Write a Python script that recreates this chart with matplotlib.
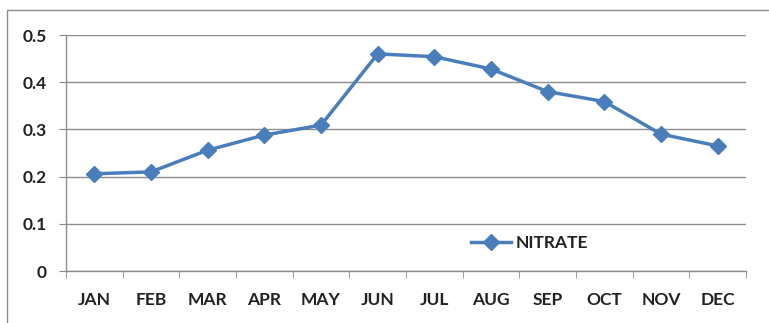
import matplotlib
matplotlib.use("Agg")
import matplotlib.pyplot as plt
from matplotlib.patches import Rectangle
from matplotlib.ticker import FixedLocator, NullFormatter

months = ["JAN", "FEB", "MAR", "APR", "MAY", "JUN", "JUL", "AUG", "SEP", "OCT", "NOV", "DEC"]
nitrate = [0.206, 0.210, 0.256, 0.288, 0.309, 0.460, 0.454, 0.428, 0.380, 0.359, 0.290, 0.265]
series_name = "NITRATE"
yticks = [0, 0.1, 0.2, 0.3, 0.4, 0.5]
yticklabels = ["0", "0.1", "0.2", "0.3", "0.4", "0.5"]

W, H = 769, 323
fig = plt.figure(figsize=(W / 100, H / 100), dpi=100)
plt.rcParams['font.family'] = ['Lato', 'DejaVu Sans']
plt.rcParams['font.weight'] = 'bold'
FS = 12.5

# outer chart frame (cropped on right/bottom)
fig.patches.append(Rectangle((7 / W, -0.1), 2, 1.1 - 10 / H, transform=fig.transFigure,
                             fill=False, edgecolor="#8c8c8c", linewidth=1.0))

left, right, top, bottom = 66, 746, 35, 271
ax = fig.add_axes([left / W, 1 - bottom / H, (right - left) / W, (bottom - top) / H])

x = list(range(1, len(months) + 1))
ax.plot(x, nitrate, color="#4a7ebb", linewidth=2.5, marker="D", markersize=8.5,
        label=series_name, zorder=3)

ax.set_xlim(0.5, len(months) + 0.5)
ax.set_ylim(0, 0.5)
ax.set_yticks(yticks)
ax.set_yticklabels(yticklabels)
ax.grid(axis="y", color="#8c8c8c", linewidth=1.0)
ax.set_axisbelow(True)

# category labels centered, tick marks between categories
ax.set_xticks(x)
ax.set_xticklabels(months)
ax.tick_params(axis="x", which="major", length=0, pad=15, labelsize=FS, labelcolor="#222222")
ax.xaxis.set_minor_locator(FixedLocator([i + 0.5 for i in range(0, len(months) + 1)]))
ax.xaxis.set_minor_formatter(NullFormatter())
ax.tick_params(axis="x", which="minor", length=5, color="#8c8c8c", direction="out")
ax.tick_params(axis="y", length=5, color="#8c8c8c", direction="out", pad=9,
               labelsize=FS, labelcolor="#222222")

for side in ["top", "right"]:
    ax.spines[side].set_visible(False)
for side in ["left", "bottom"]:
    ax.spines[side].set_color("#8c8c8c")
    ax.spines[side].set_linewidth(1.0)

leg = ax.legend(loc="center left", bbox_to_anchor=((462 - left) / (right - left), (bottom - 243) / (bottom - top)),
                frameon=False, fontsize=FS, handlelength=2.3, borderpad=0, handletextpad=0.3)
for t in leg.get_texts():
    t.set_color("#222222")

fig.savefig("out.png", dpi=100)
